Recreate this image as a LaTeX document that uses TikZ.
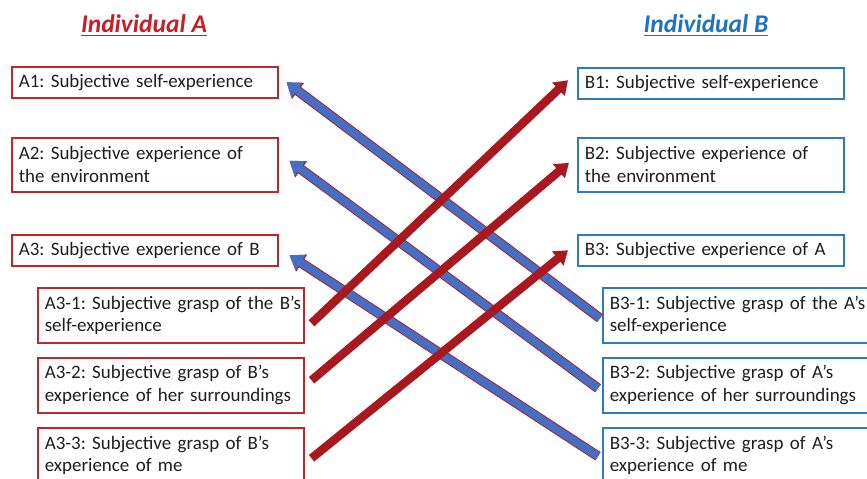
\documentclass[tikz,border=0pt]{standalone}
\usepackage{fontspec}
\setmainfont{Carlito}
\usetikzlibrary{arrows.meta,calc}
\frenchspacing
\hfuzz=20pt

\definecolor{boxred}{RGB}{192,38,44}
\definecolor{boxblue}{RGB}{45,125,190}
\definecolor{arrred}{RGB}{168,24,30}
\definecolor{arrblue}{RGB}{70,110,195}
\definecolor{txt}{RGB}{30,30,30}
\definecolor{titred}{RGB}{200,30,40}
\definecolor{titblue}{RGB}{30,115,190}

\tikzset{
  box/.style={line width=0.9pt, fill=white, anchor=north west, minimum width=5.32cm,
    text width=5.04cm, inner xsep=0.14cm, align=left, text=txt,
    font=\fontsize{10.8}{13}\selectfont},
  boxA/.style={box, draw=boxred},
  boxB/.style={box, draw=boxblue},
  titlenode/.style={anchor=base, font=\fontsize{14.5}{16}\selectfont\bfseries\itshape},
  redarrow/.style={draw=arrred, line width=4.8pt, -{Triangle[length=7.5pt,width=10pt]}},
  bluearrow/.style={preaction={draw=arrred, line width=5.6pt, -{Triangle[length=8.2pt,width=11pt]}},
    draw=arrblue, line width=4.6pt, -{Triangle[length=7.5pt,width=10pt]}}
}

\begin{document}
\begin{tikzpicture}[x=0.02cm, y=-0.02cm]
  \clip (0,0) rectangle (867,479);
  \fill[white] (0,0) rectangle (867,479);

  % titles
  \node[titlenode, text=titred] (titleA) at (144,33) {\underline{Individual A}};
  \node[titlenode, text=titblue] (titleB) at (706,33) {\underline{Individual B}};

  % individual A
  \node[boxA, minimum height=0.62cm] (a1) at (11,66) {A1: Subjective self-experience};
  \node[boxA, minimum height=1.08cm] (a2) at (11,137) {A2: Subjective experience of\\the environment};
  \node[boxA, minimum height=0.62cm] (a3) at (11,234) {A3: Subjective experience of B};
  \node[boxA, minimum height=1.1cm] (a31) at (37,287) {\mbox{A3-1: Subjective grasp of the B’s}\\self-experience};
  \node[boxA, minimum height=1.1cm] (a32) at (37,357) {A3-2: Subjective grasp of B’s\\experience of her surroundings};
  \node[boxA, minimum height=1.1cm] (a33) at (37,427) {A3-3: Subjective grasp of B’s\\experience of me};

  % individual B
  \node[boxB, minimum height=0.62cm] (b1) at (577,67) {B1: Subjective self-experience};
  \node[boxB, minimum height=1.08cm] (b2) at (577,137) {B2: Subjective experience of\\the environment};
  \node[boxB, minimum height=0.62cm] (b3) at (577,234) {B3: Subjective experience of A};
  \node[boxB, minimum height=1.1cm] (b31) at (602,287) {\mbox{B3-1: Subjective grasp of the A’s}\\self-experience};
  \node[boxB, minimum height=1.1cm] (b32) at (602,357) {B3-2: Subjective grasp of A’s\\experience of her surroundings};
  \node[boxB, minimum height=1.1cm] (b33) at (602,427) {B3-3: Subjective grasp of A’s\\experience of me};

  % arrows
  \draw[bluearrow] ($(b31.west)+(-2,3)$) -- ($(a1.east)+(8,0)$);
  \draw[bluearrow] ($(b32.west)+(-4,3)$) -- ($(a2.east)+(11,-4)$);
  \draw[bluearrow] ($(b33.west)+(-4,1)$) -- ($(a3.east)+(11,5)$);
  \draw[redarrow] ($(a31.east)+(7,8)$) -- ($(b1.west)+(-9,-3)$);
  \draw[redarrow] ($(a32.east)+(7,-5)$) -- ($(b2.west)+(-8,-2)$);
  \draw[redarrow] ($(a33.east)+(7,3)$) -- ($(b3.west)+(-9,0)$);
\end{tikzpicture}
\end{document}
